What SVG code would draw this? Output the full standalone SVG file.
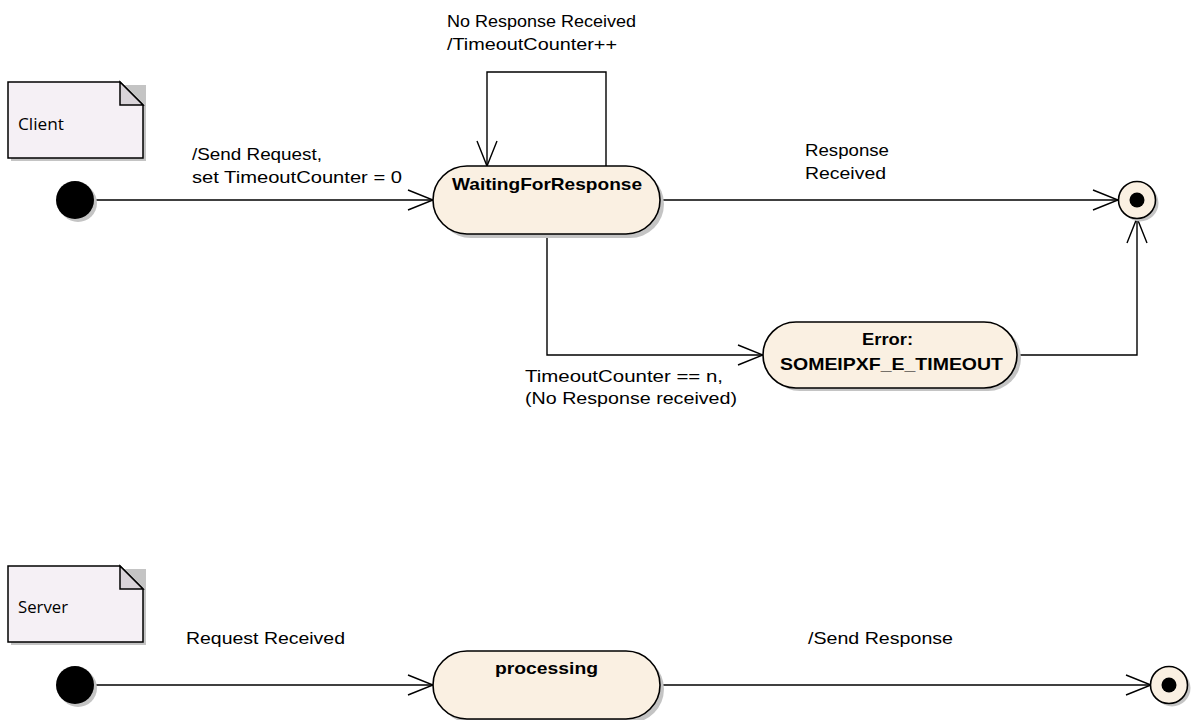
<svg xmlns="http://www.w3.org/2000/svg" width="1198" height="720" viewBox="0 0 1198 720">
<defs>
<style>
.note{fill:#F5F0F5;stroke:#000;stroke-width:1.5}
.fold{fill:#D9D4D9;stroke:#000;stroke-width:1.5;stroke-linejoin:miter}
.shadow{fill:#C4C4C4;stroke:none}
.state{fill:#FAF0E2;stroke:#000;stroke-width:1.6}
.init{fill:#000}
.final{fill:#FAF0E2;stroke:#000;stroke-width:1.6}
.conn{fill:none;stroke:#000;stroke-width:1.4}
.lbl{font-family:"Liberation Sans",Arial,sans-serif;font-size:17px;fill:#000}
.bold{font-family:"Liberation Sans",Arial,sans-serif;font-size:17px;font-weight:bold;fill:#000}
.ntxt{font-family:"Open Sans","Noto Sans",sans-serif;font-size:16px;fill:#000}
</style>
<marker id="arr" markerWidth="28" markerHeight="24" refX="26" refY="12" orient="auto" markerUnits="userSpaceOnUse">
<path d="M1,2 L26,12 L1,22" fill="none" stroke="#000" stroke-width="1.4"/>
</marker>
</defs>
<rect width="1198" height="720" fill="#fff"/>

<g id="connectors">
<path class="conn" d="M94,200 H433" marker-end="url(#arr)"/>
<path class="conn" d="M606,166 V72 H487 V166" marker-end="url(#arr)"/>
<path class="conn" d="M660,200 H1118" marker-end="url(#arr)"/>
<path class="conn" d="M547,234 V355 H763" marker-end="url(#arr)"/>
<path class="conn" d="M1017,355 H1137 V218" marker-end="url(#arr)"/>
<path class="conn" d="M94,685 H433" marker-end="url(#arr)"/>
<path class="conn" d="M660,685 H1151" marker-end="url(#arr)"/>
<text class="lbl" x="192" y="160" textLength="130" lengthAdjust="spacingAndGlyphs">/Send Request,</text>
<text class="lbl" x="192" y="183" textLength="210" lengthAdjust="spacingAndGlyphs">set TimeoutCounter = 0</text>
<text class="lbl" x="447" y="27" textLength="189" lengthAdjust="spacingAndGlyphs">No Response Received</text>
<text class="lbl" x="447" y="50" textLength="170" lengthAdjust="spacingAndGlyphs">/TimeoutCounter++</text>
<text class="lbl" x="805" y="156" textLength="84" lengthAdjust="spacingAndGlyphs">Response</text>
<text class="lbl" x="805" y="179" textLength="81" lengthAdjust="spacingAndGlyphs">Received</text>
<text class="lbl" x="525" y="382" textLength="198" lengthAdjust="spacingAndGlyphs">TimeoutCounter == n,</text>
<text class="lbl" x="525" y="404" textLength="212" lengthAdjust="spacingAndGlyphs">(No Response received)</text>
<text class="lbl" x="186" y="644" textLength="159" lengthAdjust="spacingAndGlyphs">Request Received</text>
<text class="lbl" x="808" y="644" textLength="145" lengthAdjust="spacingAndGlyphs">/Send Response</text>
</g>

<g id="note-client">
<path class="shadow" d="M11,85 H146 V161 H11 Z"/>
<path class="note" d="M8,82 H120 L143,105 V158 H8 Z"/>
<path class="fold" d="M120,82 V105 H143 Z"/>
<text class="ntxt" x="18" y="130" textLength="46" lengthAdjust="spacingAndGlyphs">Client</text>
</g>

<g id="initial-client">
<circle class="shadow" cx="78" cy="203" r="19"/>
<circle class="init" cx="75" cy="200" r="19"/>
</g>

<g id="state-waiting">
<rect class="shadow" x="437" y="170" width="227" height="68" rx="34"/>
<rect class="state" x="433" y="166" width="227" height="68" rx="34"/>
<text class="bold" x="452" y="190" textLength="190" lengthAdjust="spacingAndGlyphs">WaitingForResponse</text>
</g>

<g id="final-client">
<circle class="shadow" cx="1140" cy="203" r="18.5"/>
<circle class="final" cx="1137" cy="200" r="18.5"/>
<circle class="init" cx="1137" cy="200" r="7.5"/>
</g>

<g id="state-error">
<rect class="shadow" x="767" y="325" width="254" height="66" rx="33"/>
<rect class="state" x="763" y="322" width="254" height="66" rx="33"/>
<text class="bold" x="862" y="345" textLength="51" lengthAdjust="spacingAndGlyphs">Error:</text>
<text class="bold" x="780" y="370" textLength="223" lengthAdjust="spacingAndGlyphs">SOMEIPXF_E_TIMEOUT</text>
</g>

<g id="note-server">
<path class="shadow" d="M11,569 H146 V645 H11 Z"/>
<path class="note" d="M8,566 H120 L143,589 V642 H8 Z"/>
<path class="fold" d="M120,566 V589 H143 Z"/>
<text class="ntxt" x="18" y="613" textLength="50" lengthAdjust="spacingAndGlyphs">Server</text>
</g>

<g id="initial-server">
<circle class="shadow" cx="78" cy="688" r="19"/>
<circle class="init" cx="75" cy="685" r="19"/>
</g>

<g id="state-processing">
<rect class="shadow" x="437" y="655" width="227" height="68" rx="34"/>
<rect class="state" x="433" y="651" width="227" height="68" rx="34"/>
<text class="bold" x="495" y="674" textLength="103" lengthAdjust="spacingAndGlyphs">processing</text>
</g>

<g id="final-server">
<circle class="shadow" cx="1172" cy="688" r="18.5"/>
<circle class="final" cx="1169" cy="685" r="18.5"/>
<circle class="init" cx="1169" cy="685" r="7.5"/>
</g>
</svg>
